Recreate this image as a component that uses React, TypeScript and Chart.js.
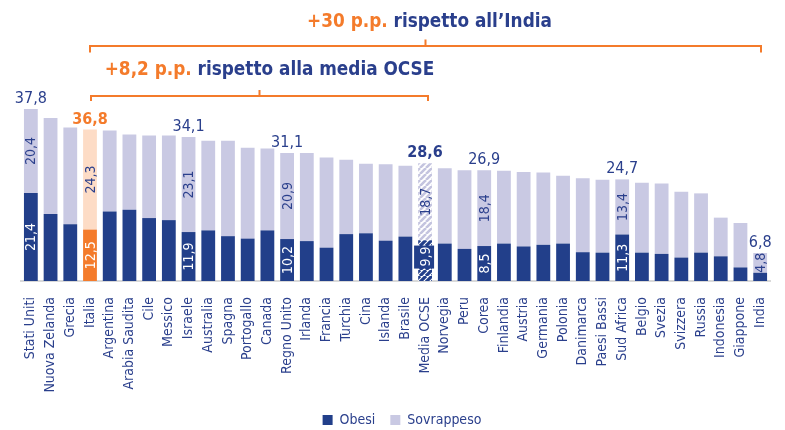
import React, { useEffect, useRef } from "react";
import { Chart, registerables } from "chart.js";

Chart.register(...registerables);

const categories = [
  "Stati Uniti", "Nuova Zelanda", "Grecia", "Italia", "Argentina", "Arabia Saudita", "Cile", "Messico",
  "Israele", "Australia", "Spagna", "Portogallo", "Canada", "Regno Unito", "Irlanda", "Francia",
  "Turchia", "Cina", "Islanda", "Brasile", "Media OCSE", "Norvegia", "Peru", "Corea",
  "Finlandia", "Austria", "Germania", "Polonia", "Danimarca", "Paesi Bassi", "Sud Africa", "Belgio",
  "Svezia", "Svizzera", "Russia", "Indonesia", "Giappone", "India",
];

const obesi = [
  21.4, 16.3, 13.8, 12.5, 16.9, 17.3, 15.3, 14.8,
  11.9, 12.3, 10.9, 10.3, 12.3, 10.2, 9.7, 8.1,
  11.4, 11.6, 9.8, 10.8, 9.9, 9.1, 7.8, 8.5,
  9.1, 8.4, 8.8, 9.1, 7.0, 6.9, 11.3, 6.9,
  6.6, 5.7, 6.9, 6.0, 3.3, 2.0,
];

const sovrappeso = [
  20.4, 23.3, 23.5, 24.3, 19.7, 18.3, 20.1, 20.6,
  23.1, 21.8, 23.2, 22.1, 19.9, 20.9, 21.4, 21.9,
  18.1, 16.9, 18.6, 17.2, 18.7, 18.3, 19.1, 18.4,
  17.7, 18.1, 17.6, 16.5, 18.0, 17.7, 13.4, 17.0,
  17.1, 16.0, 14.4, 9.4, 10.8, 4.8,
];

// text labels as printed in the original (null = no label)
const totalLabels: (string | null)[] = [
  "37,8", null, null, "36,8", null, null, null, null,
  "34,1", null, null, null, null, "31,1", null, null,
  null, null, null, null, "28,6", null, null, "26,9",
  null, null, null, null, null, null, "24,7", null,
  null, null, null, null, null, "6,8",
];
const obesiLabels: (string | null)[] = [
  "21,4", null, null, "12,5", null, null, null, null,
  "11,9", null, null, null, null, "10,2", null, null,
  null, null, null, null, "9,9", null, null, "8,5",
  null, null, null, null, null, null, "11,3", null,
  null, null, null, null, null, null,
];
const sovrappesoLabels: (string | null)[] = [
  "20,4", null, null, "24,3", null, null, null, null,
  "23,1", null, null, null, null, "20,9", null, null,
  null, null, null, null, "18,7", null, null, "18,4",
  null, null, null, null, null, null, "13,4", null,
  null, null, null, null, null, "4,8",
];

const seriesNames = ["Obesi", "Sovrappeso"];
const annotationOuter = ["+30 p.p. ", "rispetto all’India"];
const annotationInner = ["+8,2 p.p. ", "rispetto alla media OCSE"];

const ITALIA = "Italia";
const OCSE = "Media OCSE";
const INDIA = "India";

const NAVY = "#223f8a";
const LAVENDER = "#c9c9e3";
const ORANGE = "#f47b2b";
const PEACH = "#fddcc6";
const TEXT = "#2a3f8c";
const FONT = "Tahoma, 'DejaVu Sans Condensed', 'DejaVu Sans', sans-serif";

function makePattern(base: string, stripe: string, lw: number) {
  const c = document.createElement("canvas");
  c.width = 6;
  c.height = 6;
  const g = c.getContext("2d")!;
  g.fillStyle = base;
  g.fillRect(0, 0, 6, 6);
  g.strokeStyle = stripe;
  g.lineWidth = lw;
  g.beginPath();
  for (let k = -6; k <= 12; k += 6) {
    g.moveTo(k, 6);
    g.lineTo(k + 6, 0);
  }
  g.stroke();
  return g.createPattern(c, "repeat")!;
}

function rotText(ctx: CanvasRenderingContext2D, t: string, x: number, y: number, color: string, align: CanvasTextAlign = "center") {
  ctx.save();
  ctx.translate(x, y);
  ctx.rotate(-Math.PI / 2);
  ctx.fillStyle = color;
  ctx.textAlign = align;
  ctx.textBaseline = "middle";
  ctx.fillText(t, 0, 0);
  ctx.restore();
}

const labelsPlugin = {
  id: "valueLabels",
  afterDatasetsDraw(chart: any) {
    const ctx: CanvasRenderingContext2D = chart.ctx;
    const m0 = chart.getDatasetMeta(0);
    const m1 = chart.getDatasetMeta(1);
    ctx.save();
    categories.forEach((cat, i) => {
      const e0 = m0.data[i];
      const e1 = m1.data[i];
      ctx.font = `14px ${FONT}`;
      const ol = obesiLabels[i];
      if (ol) {
        let cy = (e0.y + e0.base) / 2;
        if (cat === OCSE) {
          cy = e0.y + (e0.base - e0.y) * 0.4;
          ctx.fillStyle = NAVY;
          ctx.fillRect(e0.x - 11, cy - 11, 20, 23);
        }
        rotText(ctx, ol, e0.x + 1, cy, "#ffffff");
      }
      const sl = sovrappesoLabels[i];
      if (sl) {
        const h = e1.base - e1.y;
        const tw = ctx.measureText(sl).width;
        if (h < tw + 4) {
          rotText(ctx, sl, e1.x + 1, e1.base, TEXT, "left");
        } else {
          rotText(ctx, sl, e1.x + 1, (e1.y + e1.base) / 2, TEXT);
        }
      }
      const tl = totalLabels[i];
      if (tl) {
        const bold = cat === ITALIA || cat === OCSE;
        ctx.font = `${bold ? "bold " : ""}16px ${FONT}`;
        ctx.fillStyle = cat === ITALIA ? ORANGE : TEXT;
        ctx.textAlign = "center";
        ctx.textBaseline = "alphabetic";
        ctx.fillText(tl, e1.x, e1.y - 6);
      }
    });
    ctx.restore();
  },
};

function bracket(ctx: CanvasRenderingContext2D, x1: number, x2: number, y: number, down: number, up: number) {
  const mid = (x1 + x2) / 2;
  ctx.beginPath();
  ctx.moveTo(x1, y + down);
  ctx.lineTo(x1, y);
  ctx.lineTo(x2, y);
  ctx.lineTo(x2, y + down);
  ctx.moveTo(mid, y);
  ctx.lineTo(mid, y - up);
  ctx.stroke();
  return mid;
}

function richText(ctx: CanvasRenderingContext2D, parts: string[], cx: number, baseline: number) {
  ctx.font = `bold 18.8px ${FONT}`;
  const widths = parts.map((p) => ctx.measureText(p).width);
  const total = widths.reduce((a, b) => a + b, 0);
  let x = cx - total / 2;
  ctx.textAlign = "left";
  ctx.textBaseline = "alphabetic";
  parts.forEach((p, k) => {
    ctx.fillStyle = k === 0 ? ORANGE : TEXT;
    ctx.fillText(p, x, baseline);
    x += widths[k];
  });
}

const annotationPlugin = {
  id: "brackets",
  afterDraw(chart: any) {
    const ctx: CanvasRenderingContext2D = chart.ctx;
    const xs = chart.scales.x;
    const top = chart.chartArea.top;
    const xi = xs.getPixelForValue(categories.indexOf(ITALIA));
    const xo = xs.getPixelForValue(categories.indexOf(OCSE));
    const xn = xs.getPixelForValue(categories.indexOf(INDIA));
    ctx.save();
    ctx.strokeStyle = ORANGE;
    ctx.lineWidth = 2;
    const m1 = bracket(ctx, Math.round(xi), Math.round(xn + 1), top - 54, 6.5, 6.5);
    const m2 = bracket(ctx, Math.round(xi + 1), Math.round(xo + 3), top - 4, 5, 6);
    richText(ctx, annotationOuter, m1 + 4, top - 73.5);
    richText(ctx, annotationInner, m2 + 10, top - 25);
    ctx.restore();
  },
};

export default function App() {
  const ref = useRef<HTMLCanvasElement>(null);

  useEffect(() => {
    if (!ref.current) return;
    const hatchLight = makePattern("#ffffff", "#c4c4df", 2.6);
    const hatchDark = makePattern("#ffffff", NAVY, 3.2);
    const obColors = categories.map((c) => (c === ITALIA ? ORANGE : c === OCSE ? hatchDark : NAVY));
    const owColors = categories.map((c) => (c === ITALIA ? PEACH : c === OCSE ? hatchLight : LAVENDER));

    const chart = new Chart(ref.current, {
      type: "bar",
      data: {
        labels: categories,
        datasets: [
          { label: seriesNames[0], data: obesi, backgroundColor: obColors as any, barPercentage: 0.7, categoryPercentage: 1 },
          { label: seriesNames[1], data: sovrappeso, backgroundColor: owColors as any, barPercentage: 0.7, categoryPercentage: 1 },
        ],
      },
      options: {
        animation: false,
        responsive: true,
        maintainAspectRatio: false,
        layout: { padding: { top: 100, left: 21, right: 2, bottom: -7 } },
        plugins: {
          tooltip: { enabled: false },
          legend: {
            position: "bottom",
            labels: {
              boxWidth: 10,
              boxHeight: 10,
              padding: 15,
              color: TEXT,
              font: { family: FONT, size: 14 },
              generateLabels: () =>
                seriesNames.map((n, k) => ({
                  text: n,
                  fillStyle: k === 0 ? NAVY : LAVENDER,
                  strokeStyle: k === 0 ? NAVY : LAVENDER,
                  lineWidth: 0,
                  fontColor: TEXT,
                  hidden: false,
                  datasetIndex: k,
                })),
            },
          },
        },
        scales: {
          x: {
            stacked: true,
            grid: { display: false },
            border: { display: true, color: "#d9d9d9", width: 2 },
            ticks: {
              autoSkip: false,
              minRotation: 90,
              maxRotation: 90,
              padding: 8,
              color: TEXT,
              font: { family: FONT, size: 14 },
            },
            afterFit: (s: any) => {
              s.height = 117;
            },
          },
          y: { stacked: true, display: false, min: 0, max: 44 },
        },
      },
      plugins: [labelsPlugin, annotationPlugin],
    });
    return () => chart.destroy();
  }, []);

  return (
    <div style={{ position: "fixed", left: 0, top: 0, width: 785, height: 430, background: "#ffffff" }}>
      <canvas ref={ref} />
    </div>
  );
}
